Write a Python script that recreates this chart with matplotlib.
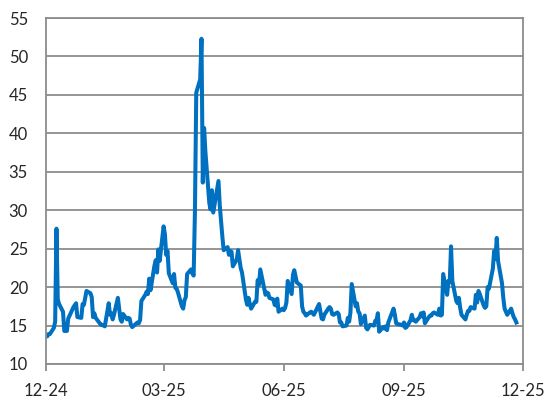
import pandas as pd
import matplotlib.pyplot as plt
import matplotlib.dates as mdates

# trading days and closes, one pair of lists per month
dec24_days = [10, 11, 12, 13, 16, 17, 18, 19, 20, 23, 24, 26, 27, 30, 31]
dec24_vals = [13.6, 13.6, 13.9, 13.9, 14.7, 15.5, 27.6, 18.4, 17.8, 16.8, 14.3, 14.3, 15.9, 17.0, 17.4]

jan25_days = [2, 3, 6, 7, 8, 10, 13, 14, 15, 16, 17, 21, 22, 23, 24, 27, 28, 29, 30, 31]
jan25_vals = [17.9, 16.1, 16.0, 17.8, 17.7, 19.5, 19.2, 18.7, 16.1, 16.6, 16.0, 15.1, 15.1, 15.0, 14.9,
              17.9, 16.4, 16.6, 15.8, 16.4]

feb25_days = [3, 4, 5, 6, 7, 10, 11, 12, 13, 14, 18, 19, 20, 21, 24, 25, 26, 27, 28]
feb25_vals = [18.6, 17.2, 15.8, 15.5, 16.5, 15.8, 16.0, 15.9, 15.1, 14.8, 15.4, 15.3, 15.7, 18.2, 19.0,
              19.4, 19.1, 21.1, 19.6]

mar25_days = [3, 4, 5, 6, 7, 10, 11, 12, 13, 14, 17, 18, 19, 20, 21, 24, 25, 26, 27, 28, 31]
mar25_vals = [22.8, 23.5, 21.9, 24.9, 23.4, 27.9, 26.9, 24.2, 24.7, 21.8, 20.5, 21.7, 19.9, 19.8, 19.3,
              17.5, 17.2, 18.3, 18.7, 21.7, 22.3]

apr25_days = [1, 2, 3, 4, 7, 8, 9, 10, 11, 14, 15, 16, 17, 21, 22, 23, 24, 25, 28, 29, 30]
apr25_vals = [21.8, 21.5, 30.0, 45.3, 47.0, 52.3, 33.6, 40.7, 37.6, 30.9, 30.1, 32.6, 29.7, 33.8, 30.6,
              28.5, 26.5, 24.8, 25.2, 24.2, 24.7]

may25_days = [1, 2, 5, 6, 7, 8, 9, 12, 13, 14, 15, 16, 19, 20, 21, 22, 23, 27, 28, 29, 30]
may25_vals = [24.6, 22.7, 23.6, 24.8, 23.6, 22.5, 21.9, 18.4, 17.7, 18.6, 17.8, 17.2, 18.1, 18.1, 20.9,
              20.3, 22.3, 19.0, 19.3, 19.2, 18.6]

jun25_days = [2, 3, 4, 5, 6, 9, 10, 11, 12, 13, 16, 17, 18, 20, 23, 24, 25, 26, 27, 30]
jun25_vals = [18.4, 17.7, 17.6, 18.5, 16.8, 17.2, 17.0, 17.3, 18.0, 20.8, 19.1, 21.6, 22.2, 20.6, 20.2,
              17.5, 16.8, 16.6, 16.3, 16.7]

jul25_days = [1, 2, 3, 7, 8, 9, 10, 11, 14, 15, 16, 17, 18, 21, 22, 23, 24, 25, 28, 29, 30, 31]
jul25_vals = [16.8, 16.6, 16.4, 17.8, 16.8, 15.9, 15.8, 16.4, 17.2, 17.4, 17.2, 16.5, 16.4, 16.7, 16.5,
              15.4, 15.4, 14.9, 15.0, 16.0, 15.5, 16.7]

aug25_days = [1, 4, 5, 6, 7, 8, 11, 12, 13, 14, 15, 18, 19, 20, 21, 22, 25, 26, 27, 28, 29]
aug25_vals = [20.4, 17.5, 17.9, 16.8, 16.6, 15.2, 16.3, 14.7, 14.5, 14.8, 15.1, 15.0, 15.6, 15.7, 16.6,
              14.2, 14.8, 14.6, 14.9, 14.4, 15.4]

sep25_days = [2, 3, 4, 5, 8, 9, 10, 11, 12, 15, 16, 17, 18, 19, 22, 23, 24, 25, 26, 29, 30]
sep25_vals = [17.2, 16.4, 15.3, 15.2, 15.1, 15.0, 15.4, 14.7, 14.8, 15.7, 16.4, 15.7, 15.7, 15.5, 16.1,
              16.6, 16.2, 16.7, 15.3, 16.1, 16.3]

oct25_days = [1, 2, 3, 6, 7, 8, 9, 10, 13, 14, 15, 16, 17, 20, 21, 22, 23, 24, 27, 28, 29, 30, 31]
oct25_vals = [16.3, 16.6, 16.7, 16.4, 17.2, 16.3, 16.4, 21.7, 19.0, 20.8, 20.6, 25.3, 20.8, 18.2, 17.9,
              18.6, 17.3, 16.4, 15.8, 16.4, 16.9, 16.9, 17.4]

nov25_days = [3, 4, 5, 6, 7, 10, 11, 12, 13, 14, 17, 18, 19, 20, 21, 24, 25, 26, 28]
nov25_vals = [17.2, 19.0, 18.0, 19.5, 19.1, 17.6, 17.3, 17.5, 20.0, 19.8, 22.4, 24.7, 23.7, 26.4, 23.4,
              20.5, 18.6, 17.2, 16.4]

dec25_days = [1, 2, 3, 4, 5]
dec25_vals = [17.2, 16.6, 16.1, 15.8, 15.4]

months = [
    ('2024-12', dec24_days, dec24_vals), ('2025-01', jan25_days, jan25_vals),
    ('2025-02', feb25_days, feb25_vals), ('2025-03', mar25_days, mar25_vals),
    ('2025-04', apr25_days, apr25_vals), ('2025-05', may25_days, may25_vals),
    ('2025-06', jun25_days, jun25_vals), ('2025-07', jul25_days, jul25_vals),
    ('2025-08', aug25_days, aug25_vals), ('2025-09', sep25_days, sep25_vals),
    ('2025-10', oct25_days, oct25_vals), ('2025-11', nov25_days, nov25_vals),
    ('2025-12', dec25_days, dec25_vals),
]

dates = []
vals = []
for ym, days, v in months:
    for d, x in zip(days, v):
        dates.append(pd.Timestamp(f'{ym}-{d:02d}'))
        vals.append(x)

tick_dates = pd.to_datetime(['2024-12-10', '2025-03-10', '2025-06-10', '2025-09-10', '2025-12-10'])

plt.rcParams['font.family'] = ['Lato', 'DejaVu Sans']
grey = '#8c8c8c'
txt = '#262626'

fig = plt.figure(figsize=(5.51, 4.16), dpi=100)
ax = fig.add_axes([0.0835, 0.125, 0.8655, 0.8317])

ax.plot(dates, vals, color='#0070C0', linewidth=2.9, solid_joinstyle='round')

ax.set_ylim(10, 55)
ax.set_yticks(range(10, 56, 5))
ax.set_xlim(tick_dates[0], tick_dates[-1])
ax.set_xticks(tick_dates)
ax.xaxis.set_major_formatter(mdates.DateFormatter('%m-%y'))

ax.grid(axis='y', color=grey, linewidth=1.3)
ax.set_axisbelow(True)
for s in ax.spines.values():
    s.set_color(grey)
    s.set_linewidth(1.3)

ax.tick_params(axis='y', length=0, pad=13, labelsize=12, labelcolor=txt)
ax.tick_params(axis='x', length=5, width=1.3, color=grey, pad=9, labelsize=12, labelcolor=txt)

fig.savefig('out.png', dpi=100)
